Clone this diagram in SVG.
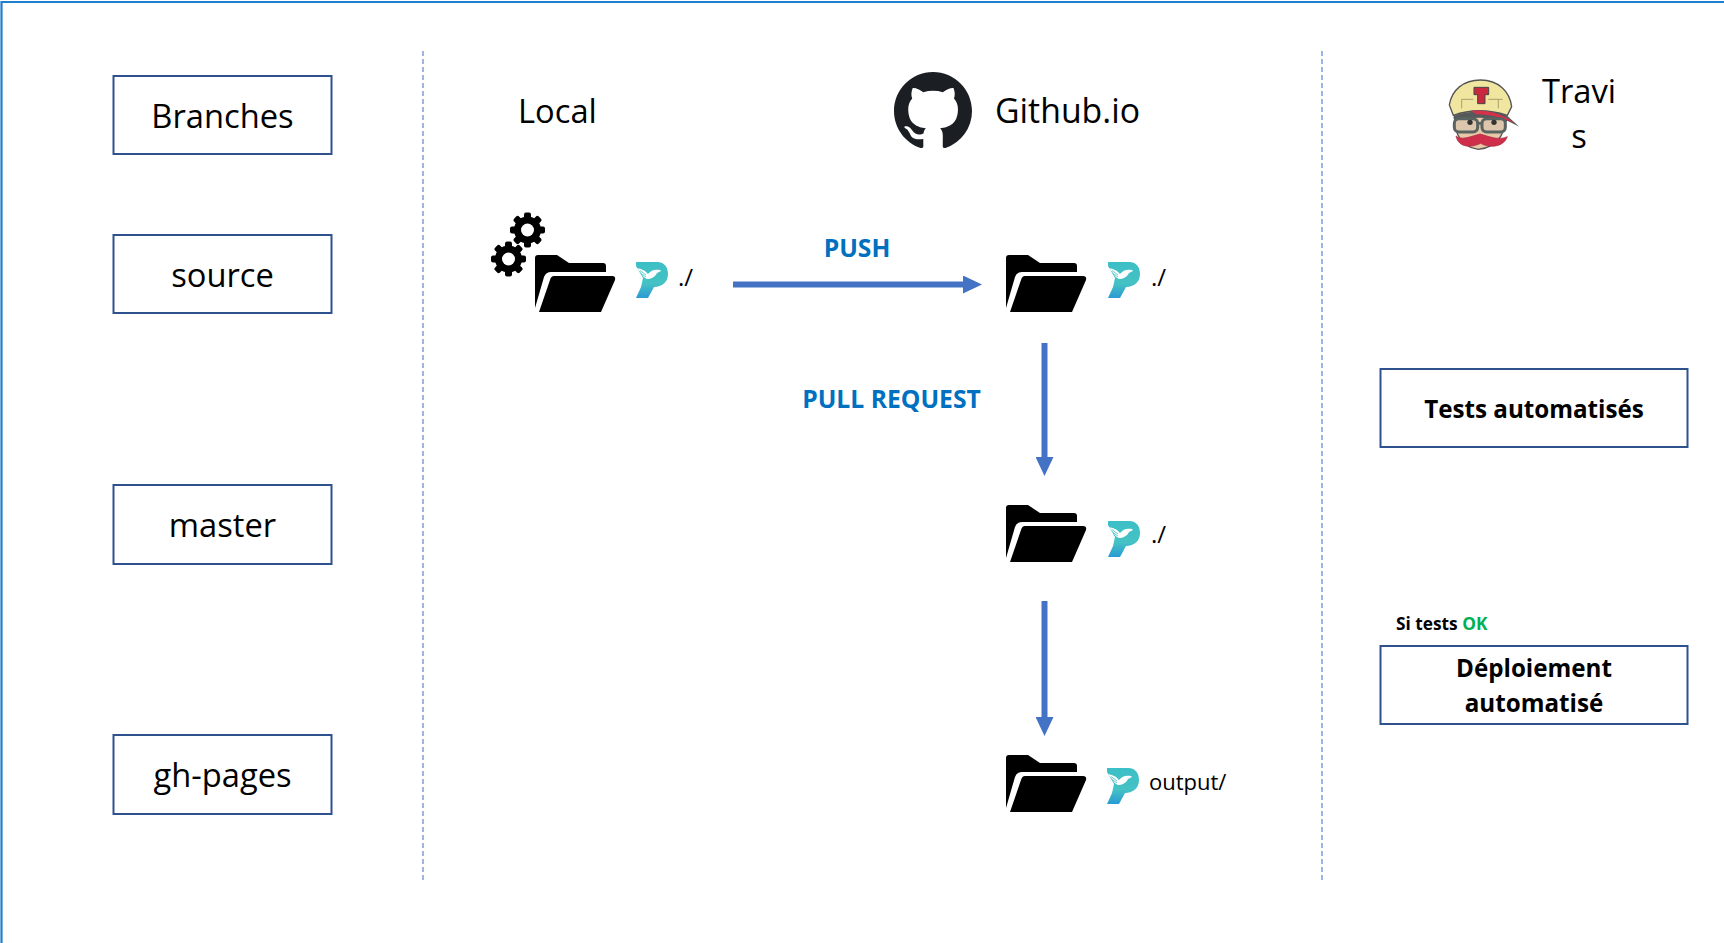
<svg xmlns="http://www.w3.org/2000/svg" width="1724" height="943" viewBox="0 0 1724 943">
<style>
text{font-family:"Open Sans","Noto Sans","Liberation Sans",sans-serif;fill:#000}
.c{text-anchor:middle}
.box{fill:#fff;stroke:#2F528F;stroke-width:2}
.lg{font-size:32.700px}
.md{font-size:22px}
.sl{font-size:24px}
.bd{font-weight:700;font-size:24.200px}
.blue{font-weight:700;font-size:24.700px;fill:#0070C0}
.sm{font-weight:700;font-size:17.300px}
.dash{stroke:#7E9FD8;stroke-width:1.5;stroke-dasharray:5 3;fill:none}
.arrow{stroke:#4472C4;stroke-width:6;fill:none;marker-end:url(#head)}
</style>
<defs>
<marker id="head" markerUnits="userSpaceOnUse" markerWidth="19" markerHeight="18" refX="0" refY="9" orient="auto"><path d="M0 0L19 9L0 18Z" fill="#4472C4"/></marker>
<linearGradient id="pg" x1="0" y1="0" x2="0" y2="1"><stop offset="0" stop-color="#3BBFC6"/><stop offset=".6" stop-color="#45C2C4"/><stop offset="1" stop-color="#2A9AD4"/></linearGradient>
<symbol id="folder" width="82" height="58" viewBox="0 0 82 58" overflow="visible">
<path d="M0 3Q0 0 3 0H22L34 8H68Q71 8 71 11V17H16Q11 17 9 22L0 53Z"/>
<path d="M19 21H77Q81 21 80 25L66 57H4L15 25Q16 21 19 21Z"/>
</symbol>
<symbol id="plogo" width="33" height="36" viewBox="0 0 33 36" overflow="visible">
<path d="M0 0H21C29 0 32 6 32 12C32 20 26 25 18 25L12 36H0L5 25L7 16L0 4Z" fill="url(#pg)"/>
<path d="M1 6C5 7 9 8 12 12C15 8 19 7 24 8L25 9L21 11C19 15 15 17 11 17C8 16 6 13 5 11Z" fill="#fff"/>
<path d="M4 8.500L10 13M5 11.500L10 15" stroke="#3BBFC6" stroke-width=".8" fill="none"/>
</symbol>
<g id="gear">
<g fill="#000"><rect x="-3.500" y="-17.500" width="7" height="35" rx="2"/><rect x="-3.500" y="-17.500" width="7" height="35" rx="2" transform="rotate(45)"/><rect x="-3.500" y="-17.500" width="7" height="35" rx="2" transform="rotate(90)"/><rect x="-3.500" y="-17.500" width="7" height="35" rx="2" transform="rotate(135)"/><circle r="13.500"/></g>
<circle r="6.500" fill="#fff"/>
</g>
</defs>
<rect width="1724" height="943" fill="#fff"/>
<path d="M1.500 943V2H1724" fill="none" stroke="#1F7FCF" stroke-width="2.200"/>
<path class="dash" d="M423 51V880"/>
<path class="dash" d="M1322 51V880"/>

<g id="node-branches"><rect class="box" x="113.500" y="76" width="218" height="78"/><text class="lg c" x="222.500" y="128">Branches</text></g>
<g id="node-source"><rect class="box" x="113.500" y="235" width="218" height="78"/><text class="lg c" x="222.500" y="287">source</text></g>
<g id="node-master"><rect class="box" x="113.500" y="485" width="218" height="79"/><text class="lg c" x="222.500" y="537">master</text></g>
<g id="node-gh-pages"><rect class="box" x="113.500" y="735" width="218" height="79"/><text class="lg c" x="222.500" y="787">gh-pages</text></g>

<g id="node-local-title"><text class="lg" x="518" y="123">Local</text></g>
<g id="node-github-title">
<path transform="translate(894 72) scale(4.875)" fill="#1B1F23" d="M8 0C3.580 0 0 3.580 0 8c0 3.540 2.290 6.530 5.470 7.590.4.070.55-.17.55-.38 0-.19-.01-.82-.01-1.490-2.010.37-2.530-.49-2.690-.94-.09-.23-.48-.94-.82-1.130-.28-.15-.68-.52-.01-.53.63-.01 1.080.58 1.230.82.72 1.210 1.870.87 2.330.66.070-.52.28-.87.51-1.070-1.780-.2-3.640-.89-3.640-3.950 0-.87.31-1.590.82-2.150-.08-.2-.36-1.020.08-2.120 0 0 .67-.21 2.200.82.64-.18 1.320-.27 2-.27.68 0 1.360.09 2 .27 1.530-1.040 2.200-.82 2.200-.82.44 1.100.16 1.920.08 2.120.51.56.82 1.270.82 2.150 0 3.070-1.870 3.750-3.650 3.950.29.25.54.73.54 1.480 0 1.070-.01 1.930-.01 2.200 0 .21.15.46.55.38A8.013 8.013 0 0016 8c0-4.420-3.580-8-8-8z"/>
<text x="995" y="123" font-size="33.800">Github.io</text>
</g>
<g id="node-travis-title">
<g transform="translate(1420 60) scale(.3333)">
<path d="M105 150C100 200 110 260 175 268C240 262 262 210 255 150Z" fill="#E8C8A6" stroke="#555" stroke-width="4"/>
<path d="M88 135C95 90 130 60 182 60C235 60 270 95 275 140L262 166C205 148 150 148 100 166Z" fill="#F0E6A0" stroke="#555" stroke-width="4"/>
<path d="M125 118V145M235 118V145M125 118H160M205 118H248" stroke="#A8A070" stroke-width="3" fill="none"/>
<path d="M162 82H206V104H195V131H173V104H162Z" fill="#C9283F" stroke="#444" stroke-width="3"/>
<path d="M100 170C130 150 235 150 262 168L298 200L262 182L258 188C210 168 150 170 103 185Z" fill="#55595A"/>
<path d="M155 152C190 150 240 155 285 190L250 176C220 166 190 163 168 163Z" fill="#D5314A"/>
<rect x="103" y="176" width="70" height="40" rx="14" fill="#DCC6AC" stroke="#596360" stroke-width="9"/>
<rect x="186" y="176" width="70" height="40" rx="14" fill="#DCC6AC" stroke="#596360" stroke-width="9"/>
<path d="M173 190H186" stroke="#596360" stroke-width="8"/>
<circle cx="150" cy="187" r="8" fill="#333"/><circle cx="222" cy="187" r="8" fill="#333"/>
<path d="M108 228C125 243 155 228 180 222C205 228 235 243 262 230C250 264 205 264 182 250C155 264 115 264 108 228Z" fill="#CF2F4B" stroke="#A8283F" stroke-width="2"/>
</g>
<text class="lg c" x="1579" y="103">Travi</text>
<text class="lg c" x="1579" y="148">s</text>
</g>

<g id="node-local-source">
<use href="#gear" transform="translate(527.500 230)"/>
<use href="#gear" transform="translate(508.500 259)"/>
<use href="#folder" x="535" y="255"/>
<use href="#plogo" x="636" y="262"/>
<text class="sl" x="678" y="286">./</text>
</g>
<g id="node-github-source">
<use href="#folder" x="1006" y="255"/>
<use href="#plogo" x="1108" y="262"/>
<text class="sl" x="1151" y="286">./</text>
</g>
<g id="node-github-master">
<use href="#folder" x="1006" y="505"/>
<use href="#plogo" x="1108" y="521"/>
<text class="sl" x="1151" y="543">./</text>
</g>
<g id="node-github-ghpages">
<use href="#folder" x="1006" y="755"/>
<use href="#plogo" x="1107" y="768"/>
<text class="md" x="1149" y="790">output/</text>
</g>

<g id="node-tests"><rect class="box" x="1380.500" y="369" width="307" height="78"/><text class="bd c" x="1534" y="418">Tests automatisés</text></g>
<g id="node-si-tests"><text class="sm" x="1396" y="630">Si tests <tspan fill="#00B050">OK</tspan></text></g>
<g id="node-deploy"><rect class="box" x="1380.500" y="646" width="307" height="78"/><text class="bd c" x="1534" y="677">Déploiement</text><text class="bd c" x="1534" y="712">automatisé</text></g>

<g id="connectors">
<path class="arrow" d="M733 284.500H963"/>
<path class="arrow" d="M1044.500 343V457"/>
<path class="arrow" d="M1044.500 601V717"/>
<text class="blue c" x="857" y="257">PUSH</text>
<text class="blue c" x="891.500" y="407.500">PULL REQUEST</text>
</g>
</svg>
